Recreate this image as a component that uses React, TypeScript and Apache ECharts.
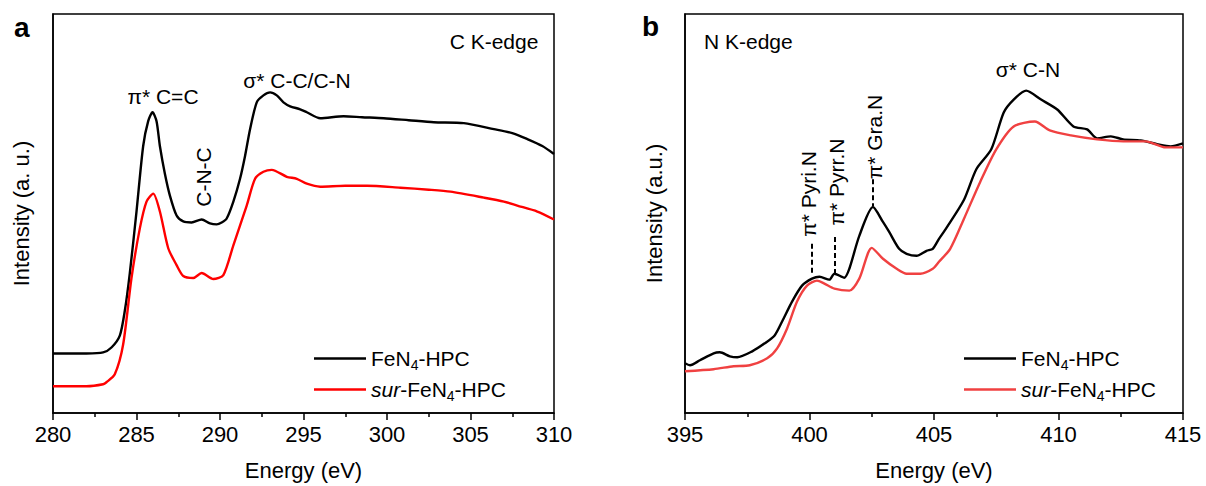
import React, { useEffect, useRef } from "react";
import * as echarts from "echarts";

const FONT = "'Liberation Sans', Arial, Helvetica, sans-serif";

// ---- Panel a: C K-edge ----
const cEnergyFe = [280, 281, 282, 283, 283.5, 284, 284.3, 284.6, 285, 285.4, 285.7, 285.96, 286.2, 286.4, 286.7, 287, 287.4, 287.8, 288.3, 288.9, 289.4, 289.8, 290.1, 290.4, 290.8, 291.2, 291.5, 291.8, 292.2, 292.6, 293, 293.4, 293.8, 294.2, 294.8, 295.2, 296, 297.4, 298.5, 299.8, 301.3, 302.8, 304.6, 306.4, 307.5, 308.4, 309.3, 310];
const cIntensityFe = [60, 60, 60, 61, 66, 78, 103, 141, 203, 269, 294, 303, 294, 269, 241, 219, 199, 193, 192, 195, 191, 190, 192, 196, 213, 236, 259, 286, 313, 320, 323, 320, 313, 309, 306, 303, 297, 299, 298, 297, 295, 293, 292, 286, 282, 276, 269, 261];
const cEnergySur = [280, 281, 282, 283, 283.2, 283.7, 284.2, 284.7, 285.2, 285.6, 286, 286.4, 286.9, 287.4, 287.8, 288.4, 288.9, 289.6, 290.2, 290.8, 291.6, 292.1, 292.6, 293.1, 294, 294.6, 295.2, 296, 297.5, 298.8, 300.8, 302.5, 303.8, 305.8, 307, 307.8, 309, 310];
const cIntensitySur = [27, 27, 27, 29, 31, 39, 69, 136, 186, 213, 221, 203, 166, 149, 138, 136, 141, 135, 139, 169, 209, 236, 243, 245, 238, 236, 231, 228, 229, 229, 227, 225, 223, 217, 213, 209, 203, 195];

// ---- Panel b: N K-edge ----
const nEnergyFe = [395, 395.2, 395.6, 396.15, 396.4, 396.8, 397.1, 397.7, 398.2, 398.6, 398.9, 399.3, 399.7, 400.1, 400.4, 400.8, 401, 401.4, 401.6, 402, 402.55, 402.95, 403.2, 403.6, 403.9, 404.3, 404.7, 404.95, 405.2, 405.5, 406.2, 406.7, 407.3, 407.8, 408.2, 408.7, 409.3, 409.95, 410.6, 411.15, 411.55, 412.1, 412.6, 413.3, 414, 414.5, 415];
const nIntensityFe = [50, 48, 53, 60, 61, 57, 56, 62, 70, 78, 92, 112, 128, 135, 137, 134, 140, 136, 145, 178, 207, 192, 182, 165, 160, 158, 163, 165, 175, 186, 214, 245, 265, 302, 315, 324, 315, 305, 288, 285, 276, 278, 275, 274, 270, 268, 271];
const nEnergySur = [395, 396.15, 396.95, 397.6, 398.3, 398.7, 399.1, 399.5, 399.9, 400.3, 400.6, 401, 401.6, 402, 402.5, 402.95, 403.5, 403.9, 404.45, 404.95, 405.2, 405.65, 406.2, 406.85, 407.5, 408.2, 409.05, 409.65, 410.5, 411.55, 412.6, 413.5, 414.3, 415];
const nIntensitySur = [42, 44, 47, 48, 55, 65, 85, 112, 128, 133, 130, 125, 123, 135, 166, 155, 145, 140, 140, 145, 152, 165, 195, 232, 265, 288, 293, 284, 279, 275, 273, 273, 267, 267];

// dashed marker lines: [energy, from, to]
const nMarkers = [
  [400.1, 170, 140],
  [401.0, 177, 139],
  [402.55, 235, 208],
];

const SERIES_A = "FeN4-HPC";
const SERIES_B = "sur-FeN4-HPC";

const zip = (xs: number[], ys: number[]) => xs.map((x, i) => [x, ys[i]]);

const axisColor = "#000";

function xAxisCfg(gridIndex: number, min: number, max: number) {
  return {
    type: "value",
    gridIndex,
    min,
    max,
    interval: 5,
    name: "Energy (eV)",
    nameLocation: "middle",
    nameGap: 46,
    nameTextStyle: { fontSize: 22, color: "#000", fontFamily: FONT },
    axisLine: { show: true, lineStyle: { color: axisColor, width: 1.5 } },
    axisTick: { show: true, inside: false, length: 7, lineStyle: { color: axisColor, width: 1.5 } },
    minorTick: { show: true, splitNumber: 2, length: 4, lineStyle: { color: axisColor, width: 1.5 } },
    axisLabel: { fontSize: 22, color: "#000", margin: 10, fontFamily: FONT },
    splitLine: { show: false },
    minorSplitLine: { show: false },
  };
}

function yAxisCfg(gridIndex: number, max: number, name: string, gap: number) {
  return {
    type: "value",
    gridIndex,
    min: 0,
    max,
    name,
    nameLocation: "middle",
    nameGap: gap,
    nameTextStyle: { fontSize: 22, color: "#000", fontFamily: FONT },
    axisLine: { show: true, lineStyle: { color: axisColor, width: 1.5 } },
    axisTick: { show: false },
    axisLabel: { show: false },
    splitLine: { show: false },
  };
}

const legendFormatter = (name: string) =>
  name === SERIES_A ? "{n|FeN}{s|4}{n|-HPC}" : "{i|sur}{n|-FeN}{s|4}{n|-HPC}";

const legendText = {
  fontSize: 21,
  color: "#000",
  fontFamily: FONT,
  rich: {
    n: { fontSize: 21, color: "#000", fontFamily: FONT },
    i: { fontSize: 21, color: "#000", fontFamily: FONT, fontStyle: "italic" },
    s: { fontSize: 14, color: "#000", fontFamily: FONT, padding: [13, 0, 0, 0] },
  },
};

function legendCfg(left: number, red: string) {
  return {
    orient: "vertical",
    left,
    top: 343,
    icon: "rect",
    itemWidth: 52,
    itemHeight: 2.5,
    itemGap: 7,
    selectedMode: false,
    formatter: legendFormatter,
    textStyle: legendText,
    data: [
      { name: SERIES_A, itemStyle: { color: "#000" } },
      { name: SERIES_B, itemStyle: { color: red } },
    ],
  };
}

function txt(x: number, y: number, text: string, opts: any = {}) {
  const size = opts.size || 21;
  const weight = opts.bold ? "bold " : "";
  const align = opts.align || "center";
  return {
    type: "text",
    x,
    y,
    rotation: opts.rotation || 0,
    silent: true,
    style: {
      text,
      font: `${weight}${size}px ${FONT}`,
      fill: "#000",
      align,
      textAlign: align,
      verticalAlign: "middle",
      textVerticalAlign: "middle",
    },
  };
}

const RED_A = "#ff0000";
const RED_B = "#f04141";

export default function App() {
  const ref = useRef<HTMLDivElement>(null);
  useEffect(() => {
    const chart = echarts.init(ref.current!, null, { renderer: "svg" });
    const option: any = {
      animation: false,
      backgroundColor: "#fff",
      grid: [
        { left: 53, top: 14, width: 501, height: 402, show: true, borderColor: "#000", borderWidth: 1.5, backgroundColor: "transparent" },
        { left: 685, top: 14, width: 498, height: 401, show: true, borderColor: "#000", borderWidth: 1.5, backgroundColor: "transparent" },
      ],
      xAxis: [xAxisCfg(0, 280, 310), xAxisCfg(1, 395, 415)],
      yAxis: [yAxisCfg(0, 402, "Intensity (a. u.)", 21), yAxisCfg(1, 401, "Intensity (a.u.)", 20)],
      legend: [legendCfg(309, RED_A), legendCfg(959, RED_B)],
      series: [
        {
          name: SERIES_A, type: "line", xAxisIndex: 0, yAxisIndex: 0, showSymbol: false, smooth: 0.25,
          lineStyle: { color: "#000", width: 2.4 }, itemStyle: { color: "#000" },
          data: zip(cEnergyFe, cIntensityFe),
        },
        {
          name: SERIES_B, type: "line", xAxisIndex: 0, yAxisIndex: 0, showSymbol: false, smooth: 0.25,
          lineStyle: { color: RED_A, width: 2.4 }, itemStyle: { color: RED_A },
          data: zip(cEnergySur, cIntensitySur),
        },
        {
          name: SERIES_A, type: "line", xAxisIndex: 1, yAxisIndex: 1, showSymbol: false, smooth: 0.25,
          lineStyle: { color: "#000", width: 2.4 }, itemStyle: { color: "#000" },
          data: zip(nEnergyFe, nIntensityFe),
          markLine: {
            silent: true,
            symbol: "none",
            label: { show: false },
            lineStyle: { type: [5, 3], color: "#000", width: 2 },
            data: nMarkers.map(([e, a, b]) => [{ coord: [e, a] }, { coord: [e, b] }]),
          },
        },
        {
          name: SERIES_B, type: "line", xAxisIndex: 1, yAxisIndex: 1, showSymbol: false, smooth: 0.25,
          lineStyle: { color: RED_B, width: 2.4 }, itemStyle: { color: RED_B },
          data: zip(nEnergySur, nIntensitySur),
        },
      ],
      graphic: [
        txt(14, 27, "a", { size: 28, bold: true, align: "left" }),
        txt(642, 26, "b", { size: 28, bold: true, align: "left" }),
        txt(494, 41, "C K-edge"),
        txt(704, 41, "N K-edge", { align: "left" }),
        txt(163, 96, "π* C=C"),
        txt(297, 80, "σ* C-C/C-N"),
        txt(203, 177, "C-N-C", { rotation: Math.PI / 2 }),
        txt(1028, 69, "σ* C-N"),
        txt(808, 194, "π* Pyri.N", { rotation: Math.PI / 2 }),
        txt(836, 182, "π* Pyrr.N", { rotation: Math.PI / 2 }),
        txt(874, 137, "π* Gra.N", { rotation: Math.PI / 2 }),
      ],
    };
    chart.setOption(option);
    return () => chart.dispose();
  }, []);
  return <div ref={ref} style={{ position: "absolute", left: 0, top: 0, width: 1206, height: 486 }} />;
}
